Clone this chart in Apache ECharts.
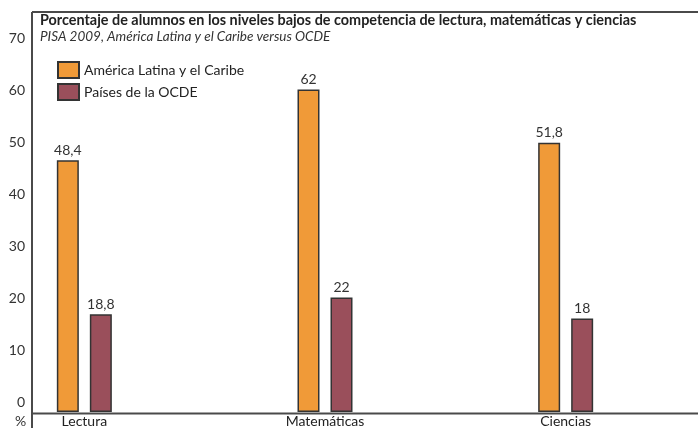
<!DOCTYPE html>
<html>
<head>
<meta charset="utf-8">
<script src="https://cdn.jsdelivr.net/npm/echarts@6/dist/echarts.min.js"></script>
<style>
  html, body { margin: 0; padding: 0; background: #fff; overflow: hidden; width: 698px; height: 428px; }
  /* canvas is 36px wider than the page and pulled left, so the first
     category band can start outside the visible area */
  #chart { position: absolute; left: -36px; top: 0; width: 734px; height: 428px; }
</style>
</head>
<body>
<div id="chart"></div>
<script>
// Subjects on the category axis
const categories = ['Lectura', 'Matemáticas', 'Ciencias'];
// Share of students in the low proficiency levels (%)
const latamValues = [48.4, 62, 51.8];
const oecdValues = [18.8, 22, 18];
// Value-axis ticks
const yTicks = [0, 10, 20, 30, 40, 50, 60, 70];
const seriesNames = ['América Latina y el Caribe', 'Países de la OCDE'];

const FONT = 'Lato, "Open Sans", sans-serif';
const FRAME = '#4a4a4a';
const SHIFT = 36; // horizontal offset of the canvas relative to the page

const chart = echarts.init(document.getElementById('chart'), null, { renderer: 'canvas' });

const fmt = p => String(p.value).replace('.', ',');

chart.setOption({
  animation: false,
  backgroundColor: '#ffffff',
  title: {
    text: 'Porcentaje de alumnos en los niveles bajos de competencia de lectura, matemáticas y ciencias',
    subtext: 'PISA 2009, América Latina y el Caribe versus OCDE',
    left: 40 + SHIFT,
    top: 13,
    padding: 0,
    itemGap: 3,
    textStyle: { fontFamily: FONT, fontSize: 14.4, fontWeight: 'bold', color: '#222' },
    subtextStyle: { fontFamily: FONT, fontSize: 13.5, fontStyle: 'italic', color: '#333' }
  },
  legend: {
    orient: 'vertical',
    left: 57 + SHIFT,
    top: 61,
    padding: 0,
    itemGap: 4,
    itemWidth: 21,
    itemHeight: 16,
    icon: 'rect',
    textStyle: { fontFamily: FONT, fontSize: 14, color: '#222' },
    data: seriesNames
  },
  grid: { left: 0, right: 12, top: 48, bottom: 15, containLabel: false },
  xAxis: {
    type: 'category',
    data: categories,
    axisLine: { show: false },
    axisTick: { show: false },
    axisLabel: { fontFamily: FONT, fontSize: 14, color: '#222', margin: 2 }
  },
  yAxis: {
    type: 'value',
    min: yTicks[0],
    max: yTicks[yTicks.length - 1],
    interval: yTicks[1] - yTicks[0],
    offset: -(32 + SHIFT),
    axisLine: { show: false },
    axisTick: { show: false },
    splitLine: { show: false },
    axisLabel: {
      fontFamily: FONT, fontSize: 14, color: '#333', margin: 7,
      verticalAlign: 'bottom', padding: [0, 0, 3, 0]
    }
  },
  series: [
    {
      name: seriesNames[0],
      type: 'bar',
      data: latamValues,
      barWidth: 22,
      barGap: '50%',
      itemStyle: { color: '#F09A38', borderColor: '#333', borderWidth: 1.5 },
      label: { show: true, position: 'top', distance: 3, formatter: fmt,
               fontFamily: FONT, fontSize: 14, color: '#333' }
    },
    {
      name: seriesNames[1],
      type: 'bar',
      data: oecdValues,
      barWidth: 22,
      itemStyle: { color: '#9A4F5B', borderColor: '#333', borderWidth: 1.5 },
      label: { show: true, position: 'top', distance: 3, formatter: fmt,
               fontFamily: FONT, fontSize: 14, color: '#333' }
    }
  ],
  graphic: [
    // frame: left border, top rule and baseline
    { type: 'line', shape: { x1: 32 + SHIFT, y1: 12, x2: 32 + SHIFT, y2: 428 }, style: { stroke: FRAME, lineWidth: 2 } },
    { type: 'line', shape: { x1: 32 + SHIFT, y1: 12, x2: 698 + SHIFT, y2: 12 }, style: { stroke: FRAME, lineWidth: 2 } },
    { type: 'line', shape: { x1: 32 + SHIFT, y1: 413.5, x2: 698 + SHIFT, y2: 413.5 }, style: { stroke: FRAME, lineWidth: 2 } },
    { type: 'text', left: 15 + SHIFT, top: 414,
      style: { text: '%', font: '14px ' + FONT, fill: '#333' } }
  ]
});
</script>
</body>
</html>
